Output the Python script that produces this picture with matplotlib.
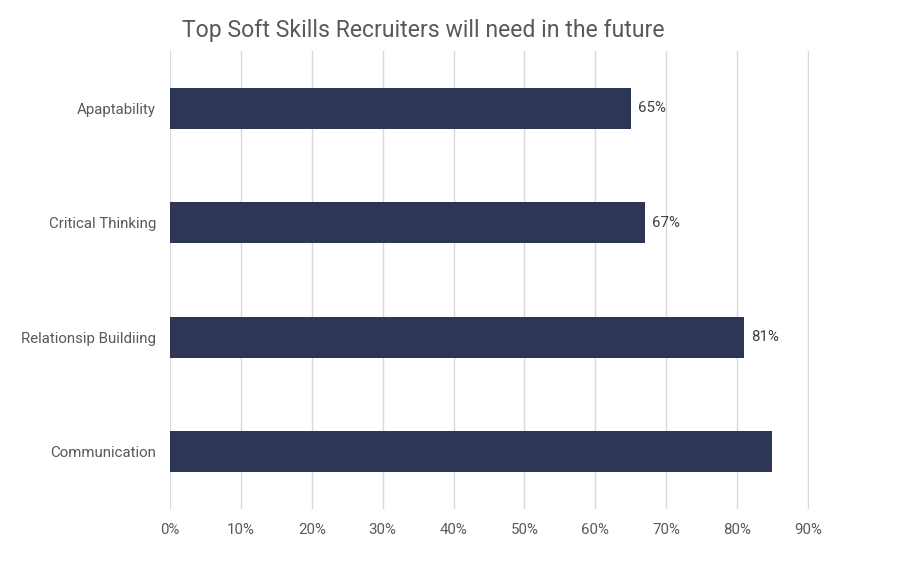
import matplotlib
matplotlib.use("Agg")
import matplotlib.pyplot as plt
from matplotlib.ticker import FuncFormatter, FixedLocator

categories = ["Apaptability", "Critical Thinking", "Relationsip Buildiing", "Communication"]
values = [65, 67, 81, 85]
labels = ["65%", "67%", "81%", ""]
xticks = [0, 10, 20, 30, 40, 50, 60, 70, 80, 90]

plt.rcParams['font.family'] = ['Roboto', 'DejaVu Sans']

fig = plt.figure(figsize=(9.21, 5.75), dpi=100)
ax = fig.add_axes([170/921, 1-509/575, (809-170)/921, (509-51)/575])

pos = list(range(len(categories)))
bars = ax.barh(pos, values, height=0.36, color="#2E3657", zorder=3)
ax.set_ylim(len(categories)-0.5, -0.5)
ax.set_xlim(0, 90.15)
ax.set_yticks(pos)
ax.set_yticklabels(categories, fontsize=10.8, color="#595959")
ax.xaxis.set_major_locator(FixedLocator(xticks))
ax.xaxis.set_major_formatter(FuncFormatter(lambda v, p: f"{int(round(v))}%"))
ax.tick_params(axis='x', labelsize=10.8, labelcolor="#595959", length=0, pad=10)
ax.tick_params(axis='y', length=0, pad=10)
ax.grid(axis='x', color="#D9D9D9", linewidth=1, zorder=0)
for s in ax.spines.values():
    s.set_visible(False)

for b, lab in zip(bars, labels):
    if lab:
        ax.annotate(lab, (b.get_width(), b.get_y()+b.get_height()/2), xytext=(5, 0),
                    textcoords="offset points", va="center", ha="left", fontsize=10.8, color="#404040")

fig.text(423/921, 1-30/575, "Top Soft Skills Recruiters will need in the future", ha="center", va="center",
         fontsize=16.6, color="#595959")

fig.savefig("out.png", dpi=100)
